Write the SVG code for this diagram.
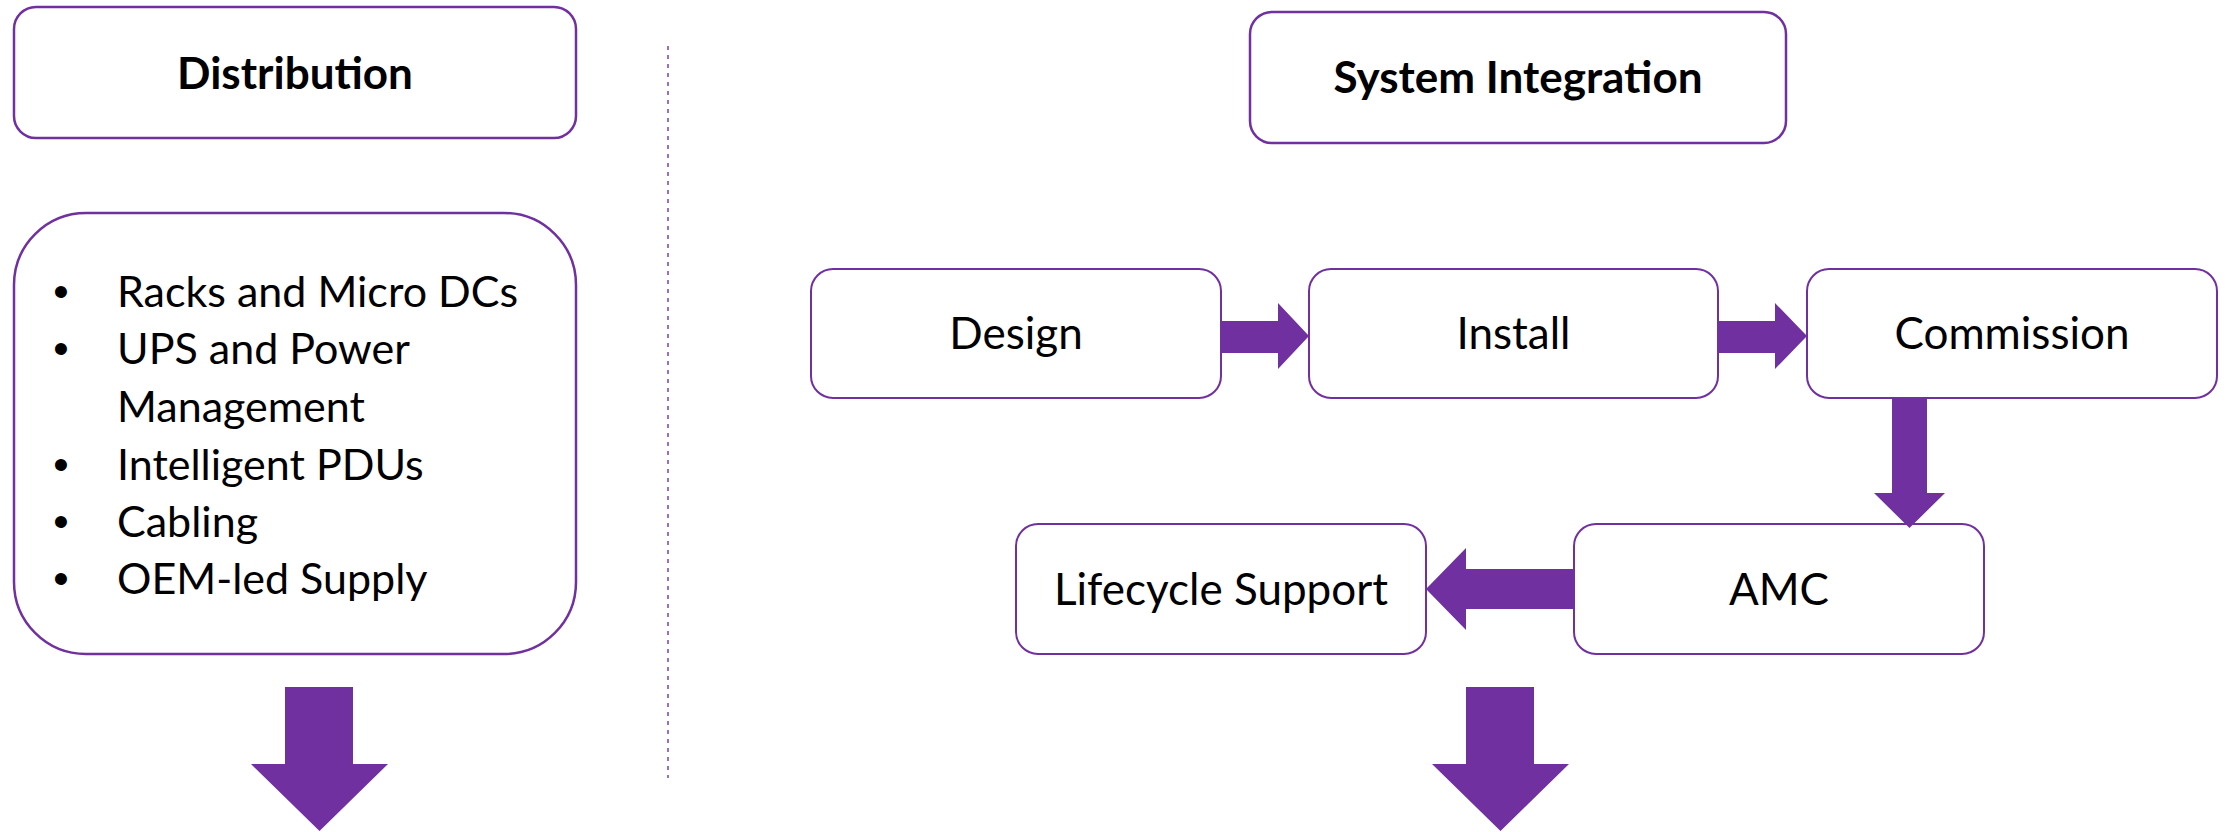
<svg xmlns="http://www.w3.org/2000/svg" width="2231" height="832" viewBox="0 0 2231 832">
  <style>
    .box { fill: #ffffff; stroke: #7030A0; stroke-width: 2; }
    .panel { fill: #ffffff; stroke: #7030A0; stroke-width: 2.5; }
    .title { font-family: Lato, "Open Sans", sans-serif; font-weight: bold; font-size: 44px; fill: #000000; text-anchor: middle; }
    .label { font-family: Lato, "Open Sans", sans-serif; font-size: 44px; fill: #000000; text-anchor: middle; }
    .item { font-family: Lato, "Open Sans", sans-serif; font-size: 43px; fill: #000000; }
    .dot { font-family: "Liberation Sans", Arial, sans-serif; font-size: 44px; fill: #000000; text-anchor: middle; }
    .arrow { fill: #7030A0; stroke: none; }
    .divider { stroke: #9b6fc9; stroke-width: 2; stroke-dasharray: 4 5; fill: none; }
  </style>

  <rect width="2231" height="832" fill="#ffffff"/>

  <!-- column divider -->
  <line class="divider" x1="668" y1="46" x2="668" y2="778"/>

  <!-- left column: distribution -->
  <g id="distribution">
    <rect class="panel" x="14" y="7" width="562" height="131" rx="22" ry="22"/>
    <text class="title" x="295" y="89">Distribution</text>
  </g>

  <g id="distribution-items">
    <rect class="panel" x="14" y="213" width="562" height="441" rx="72" ry="72"/>
    <text class="dot" x="61" y="307">•</text>
    <text class="item" x="117" y="307">Racks and Micro DCs</text>
    <text class="dot" x="61" y="364">•</text>
    <text class="item" x="117" y="364">UPS and Power</text>
    <text class="item" x="117" y="422">Management</text>
    <text class="dot" x="61" y="480">•</text>
    <text class="item" x="117" y="480">Intelligent PDUs</text>
    <text class="dot" x="61" y="537">•</text>
    <text class="item" x="117" y="537">Cabling</text>
    <text class="dot" x="61" y="594">•</text>
    <text class="item" x="117" y="594">OEM-led Supply</text>
  </g>

  <!-- right column: system integration -->
  <g id="system-integration">
    <rect class="panel" x="1250" y="12" width="536" height="131" rx="22" ry="22"/>
    <text class="title" x="1518" y="93">System Integration</text>
  </g>

  <g id="design">
    <rect class="box" x="811" y="269" width="410" height="129" rx="22" ry="22"/>
    <text class="label" x="1016" y="349">Design</text>
  </g>

  <g id="install">
    <rect class="box" x="1309" y="269" width="409" height="129" rx="22" ry="22"/>
    <text class="label" x="1513.5" y="349">Install</text>
  </g>

  <g id="commission">
    <rect class="box" x="1807" y="269" width="410" height="129" rx="22" ry="22"/>
    <text class="label" x="2012" y="349">Commission</text>
  </g>

  <g id="amc">
    <rect class="box" x="1574" y="524" width="410" height="130" rx="22" ry="22"/>
    <text class="label" x="1779" y="605">AMC</text>
  </g>

  <g id="lifecycle-support">
    <rect class="box" x="1016" y="524" width="410" height="130" rx="22" ry="22"/>
    <text class="label" x="1221" y="605">Lifecycle Support</text>
  </g>

  <!-- block arrows -->
  <g id="connectors">
    <polygon class="arrow" points="1221,321 1278,321 1278,303 1309,336 1278,369 1278,353 1221,353"/>
    <polygon class="arrow" points="1718,321 1775,321 1775,303 1807,336 1775,369 1775,353 1718,353"/>
    <polygon class="arrow" points="1892,398 1927,398 1927,493 1945,493 1909.5,528 1874,493 1892,493"/>
    <polygon class="arrow" points="1574,569 1466,569 1466,548 1426,589 1466,630 1466,609 1574,609"/>
    <polygon class="arrow" points="285,687 353,687 353,764 388,764 319.5,831 251,764 285,764"/>
    <polygon class="arrow" points="1466,687 1534,687 1534,764 1569,764 1500.5,831 1432,764 1466,764"/>
  </g>
</svg>
